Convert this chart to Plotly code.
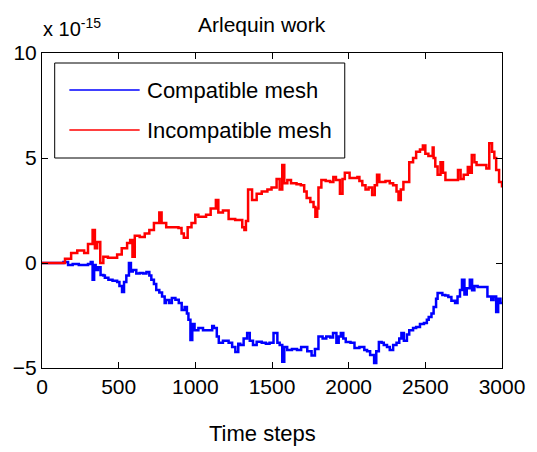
import plotly.graph_objects as go

# ---- data (values in units of 1e-15) ----
red_x = [0, 110, 150, 190, 230, 275, 300, 330, 345, 360, 380, 400, 430, 490, 520, 555, 575, 590, 605, 637,
         670, 700, 730, 765, 780, 810, 850, 890, 910, 925, 950, 975, 1000, 1020, 1070, 1100, 1134, 1150, 1180, 1217,
         1260, 1306, 1320, 1330, 1344, 1370, 1400, 1433, 1470, 1497, 1530, 1550, 1567, 1580, 1600, 1624, 1660, 1688, 1710, 1726,
         1750, 1771, 1783, 1795, 1803, 1822, 1850, 1879, 1900, 1917, 1943, 1960, 1975, 2006, 2057, 2070, 2089, 2110, 2130, 2153,
         2170, 2185, 2200, 2240, 2268, 2290, 2312, 2325, 2340, 2357, 2395, 2420, 2440, 2465, 2484, 2500, 2520, 2548, 2554, 2565,
         2580, 2599, 2615, 2631, 2694, 2713, 2730, 2750, 2777, 2790, 2803, 2820, 2834, 2885, 2898, 2917, 2935, 2950, 2962, 2981, 3000]
red_y = [0, 0, 0.2, 0.48, 0.6, 0.48, 0.9, 1.57, 0.7, 1.0, 0, 0.3, 0.25, 0.4, 0.7, 0.95, 1.1, 0.3, 1.3, 1.24,
         1.4, 1.57, 1.9, 2.4, 1.9, 1.7, 1.7, 1.67, 1.4, 1.2, 1.7, 1.9, 2.3, 2.2, 2.3, 2.6, 3.0, 2.4, 2.5, 2.1,
         2.05, 1.7, 1.57, 2.0, 3.5, 3.0, 3.3, 3.4, 3.5, 3.6, 4.0, 3.5, 4.67, 3.8, 3.95, 3.8, 3.75, 3.7, 3.4, 3.1,
         2.9, 2.67, 2.2, 2.6, 3.6, 3.95, 3.9, 3.86, 4.1, 3.95, 3.3, 4.0, 4.3, 4.05, 4.1, 3.9, 3.7, 3.5, 3.6, 3.24,
         3.7, 4.2, 3.86, 3.9, 3.8, 3.7, 3.4, 3.0, 3.5, 3.86, 4.8, 5.0, 5.3, 5.4, 5.6, 5.2, 5.1, 5.5, 5.0, 4.6,
         4.2, 4.8, 4.3, 3.95, 3.95, 4.43, 4.0, 4.2, 4.57, 4.3, 5.14, 4.8, 4.67, 4.67, 4.5, 5.7, 5.3, 5.0, 4.43, 3.86, 3.6]

blue_x = [0, 115, 140, 170, 200, 240, 275, 300, 318, 330, 340, 350, 365, 382, 400, 410, 433, 460, 490, 505,
          522, 535, 550, 567, 580, 592, 615, 637, 660, 681, 700, 713, 730, 745, 765, 783, 800, 809, 830, 847,
          870, 892, 911, 930, 945, 955, 968, 980, 995, 1020, 1050, 1089, 1110, 1121, 1140, 1153, 1180, 1217, 1240, 1261,
          1280, 1293, 1315, 1338, 1355, 1376, 1400, 1433, 1460, 1484, 1510, 1535, 1550, 1567, 1580, 1599, 1630, 1663, 1690, 1707,
          1730, 1758, 1780, 1803, 1830, 1854, 1880, 1898, 1920, 1935, 1949, 1965, 1981, 2012, 2038, 2070, 2102, 2120, 2140, 2166,
          2180, 2197, 2215, 2229, 2250, 2268, 2290, 2312, 2330, 2344, 2360, 2380, 2395, 2420, 2440, 2465, 2491, 2510, 2522, 2540,
          2554, 2570, 2580, 2611, 2630, 2650, 2670, 2694, 2710, 2726, 2739, 2755, 2770, 2790, 2805, 2820, 2841, 2885, 2905, 2930,
          2945, 2962, 2975, 2990, 3000]
blue_y = [0, 0, 0.05, -0.1, -0.05, -0.1, -0.1, -0.05, 0.05, -0.8, -0.1, -0.33, -0.2, -0.57, -0.6, -0.7, -0.8, -0.85, -0.9, -1.1,
          -1.38, -0.9, -0.6, 0, -0.4, -0.33, -0.5, -0.48, -0.5, -0.43, -0.6, -0.8, -1.0, -1.29, -1.4, -1.6, -1.9, -1.76, -1.9, -1.67,
          -1.75, -1.9, -2.24, -2.1, -2.4, -2.7, -3.67, -2.9, -3.2, -3.1, -3.2, -3.2, -3.0, -3.1, -3.5, -3.8, -3.7, -3.8, -4.0, -4.24,
          -3.85, -3.9, -3.6, -3.33, -3.7, -3.9, -3.75, -3.8, -3.85, -3.8, -3.33, -3.8, -3.9, -4.7, -4.0, -4.14, -4.1, -4.14, -4.0, -4.0,
          -4.2, -4.4, -4.1, -3.5, -3.6, -3.5, -3.55, -3.33, -3.8, -3.5, -3.33, -3.6, -3.76, -3.8, -4.05, -4.0, -4.14, -4.2, -4.38, -4.76,
          -4.2, -3.76, -3.8, -3.9, -4.0, -4.14, -3.9, -3.8, -3.6, -3.33, -3.7, -3.4, -3.2, -3.1, -3.05, -2.9, -2.86, -2.7, -2.57, -2.4,
          -2.1, -1.7, -1.43, -1.52, -1.55, -1.62, -1.8, -1.9, -1.6, -1.29, -0.8, -1.5, -1.2, -0.8, -1.3, -1.1, -1.14, -1.14, -1.6, -1.76,
          -1.6, -2.33, -1.7, -1.9, -1.85]

x_ticks = [0, 500, 1000, 1500, 2000, 2500, 3000]
y_ticks = [-5, 0, 5, 10]
series_names = ["Compatible mesh", "Incompatible mesh"]
series_colors = ["#0000ff", "#ff0000"]

FONT = "Liberation Sans, Arial, sans-serif"

fig = go.Figure()
fig.add_trace(go.Scatter(x=blue_x, y=blue_y, mode="lines", name=series_names[0],
                         line=dict(color=series_colors[0], width=2.5, shape="hv"), showlegend=False))
fig.add_trace(go.Scatter(x=red_x, y=red_y, mode="lines", name=series_names[1],
                         line=dict(color=series_colors[1], width=2.5, shape="hv"), showlegend=False))

axis_common = dict(showline=True, linecolor="black", linewidth=1, mirror="ticks",
                   ticks="inside", ticklen=6, tickcolor="black", showgrid=False, zeroline=False,
                   tickfont=dict(family=FONT, size=21, color="black"))
fig.update_xaxes(range=[0, 3000], tickvals=x_ticks, **axis_common)
fig.update_yaxes(range=[-5, 10], tickvals=y_ticks, **axis_common)

# manual legend (paper coords)
L = 42; W = 471; T = 53; H = 315
def px(x): return (x - L) / W
def py(y): return (T + H - y) / H

shapes = [dict(type="rect", xref="paper", yref="paper", x0=px(55), x1=px(352), y0=py(158), y1=py(63),
               line=dict(color="black", width=1), fillcolor="white", layer="above")]
annotations = []
for i, (nm, col) in enumerate(zip(series_names, series_colors)):
    yy = 90 + 40 * i
    shapes.append(dict(type="line", xref="paper", yref="paper", x0=px(70), x1=px(142), y0=py(yy), y1=py(yy),
                       line=dict(color=col, width=1.5), layer="above"))
    annotations.append(dict(text=nm, xref="paper", yref="paper", x=px(147), y=py(yy), xanchor="left",
                            yanchor="middle", showarrow=False, font=dict(family=FONT, size=22, color="black")))

annotations.append(dict(text="Arlequin work", xref="paper", yref="paper", x=px(267), y=py(24),
                        xanchor="center", yanchor="middle", showarrow=False,
                        font=dict(family=FONT, size=21, color="black")))
annotations.append(dict(text="x 10<sup>-15</sup>", xref="paper", yref="paper", x=px(41), y=py(42),
                        xanchor="left", yanchor="bottom", showarrow=False,
                        font=dict(family=FONT, size=20, color="black")))
annotations.append(dict(text="Time steps", xref="paper", yref="paper", x=px(268), y=py(433),
                        xanchor="center", yanchor="middle", showarrow=False,
                        font=dict(family=FONT, size=22, color="black")))

fig.update_layout(width=537, height=452, margin=dict(l=42, r=24, t=53, b=84),
                  paper_bgcolor="white", plot_bgcolor="white",
                  shapes=shapes, annotations=annotations)

fig.write_html("out.html")
